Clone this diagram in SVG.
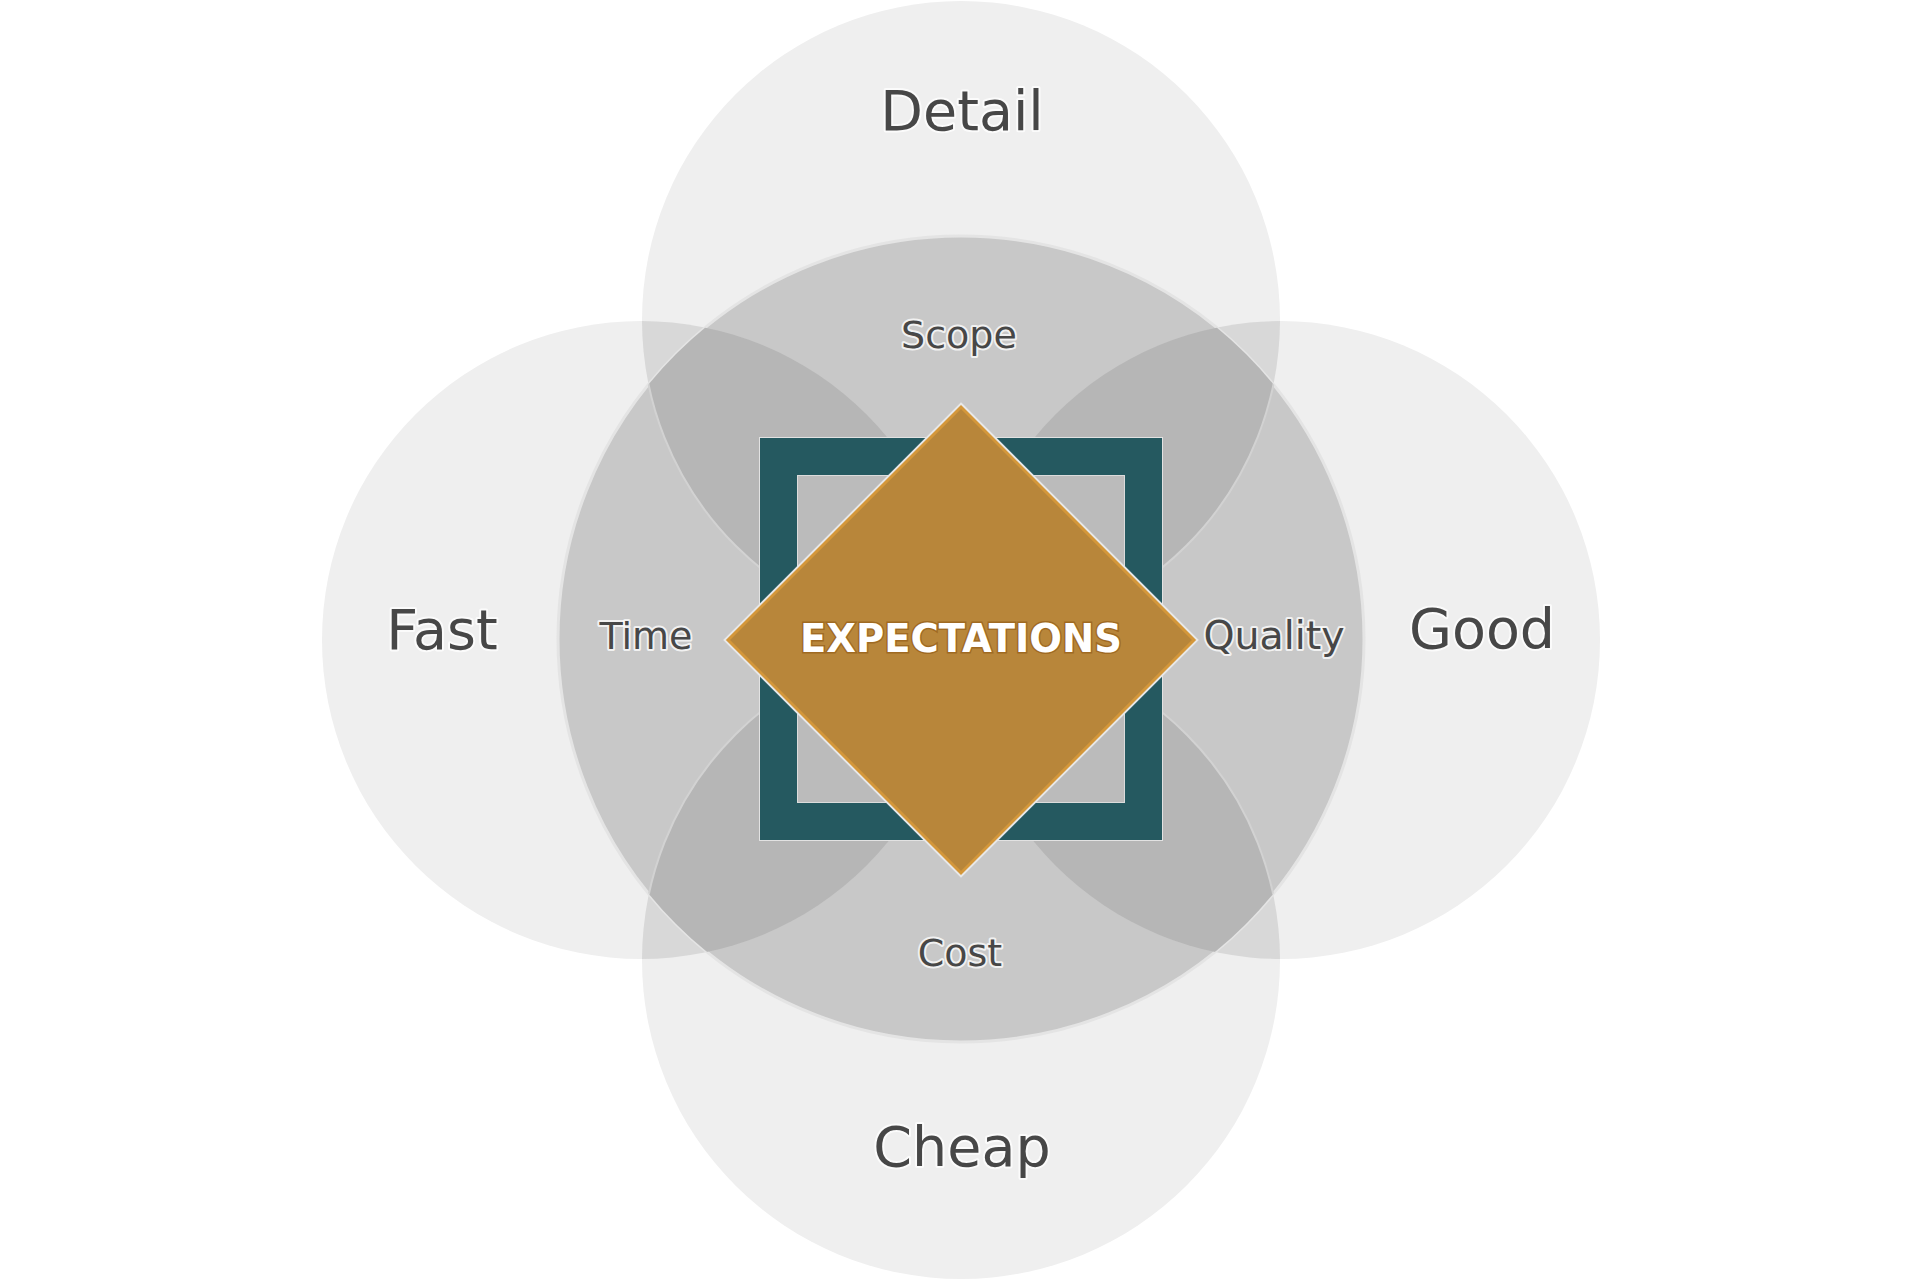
<svg xmlns="http://www.w3.org/2000/svg" width="1920" height="1280" viewBox="0 0 1920 1280">
  <style>
    .outer { fill: #efefef; }
    .lensOut { fill: #d8d8d8; }
    .lensIn { fill: #b6b6b6; stroke: #d2d2d2; stroke-width: 2; }
    .lbl { font-family: "DejaVu Sans", "Liberation Sans", sans-serif; fill: #474747; text-anchor: middle; stroke: #ffffff; stroke-opacity: 0.75; stroke-width: 4; paint-order: stroke; stroke-linejoin: round; }
    .big { font-size: 55.5px; }
    .small { font-size: 38px; }
    .center { font-family: "DejaVu Sans", "Liberation Sans", sans-serif; font-weight: bold; font-size: 38.5px; fill: #ffffff; text-anchor: middle; stroke: #a06a22; stroke-width: 3; paint-order: stroke; }
  </style>
  <defs>
    <circle id="cTop" cx="961" cy="320" r="319"/>
    <circle id="cLeft" cx="641" cy="640" r="319"/>
    <circle id="cRight" cx="1281" cy="640" r="319"/>
    <circle id="cBottom" cx="961" cy="960" r="319"/>
    <clipPath id="clipLeft"><use href="#cLeft"/></clipPath>
    <clipPath id="clipRight"><use href="#cRight"/></clipPath>
    <clipPath id="clipCentral"><circle cx="961" cy="639" r="403"/></clipPath>
  </defs>
  <rect width="1920" height="1280" fill="#ffffff"/>

  <g id="circles-outer">
    <use href="#cTop" class="outer"/>
    <use href="#cLeft" class="outer"/>
    <use href="#cRight" class="outer"/>
    <use href="#cBottom" class="outer"/>
    <g clip-path="url(#clipLeft)">
      <use href="#cTop" class="lensOut"/>
      <use href="#cBottom" class="lensOut"/>
    </g>
    <g clip-path="url(#clipRight)">
      <use href="#cTop" class="lensOut"/>
      <use href="#cBottom" class="lensOut"/>
    </g>
  </g>

  <g id="central-circle">
    <circle cx="961" cy="639" r="403" fill="#c8c8c8" stroke="#e4e4e4" stroke-width="3"/>
    <g clip-path="url(#clipCentral)">
      <g clip-path="url(#clipLeft)">
        <use href="#cTop" class="lensIn"/>
        <use href="#cBottom" class="lensIn"/>
      </g>
      <g clip-path="url(#clipRight)">
        <use href="#cTop" class="lensIn"/>
        <use href="#cBottom" class="lensIn"/>
      </g>
    </g>
  </g>

  <g id="square">
    <rect x="760" y="438" width="402" height="402" fill="none" stroke="#e2e2e2" stroke-width="2"/>
    <rect x="797" y="475" width="328" height="328" fill="#ffffff" fill-opacity="0.07" stroke="#dcdcdc" stroke-width="2"/>
    <rect x="778.5" y="456.5" width="365" height="365" fill="none" stroke="#255960" stroke-width="37"/>
  </g>

  <g id="expectations">
    <polygon points="961,405 1196,640 961,875 726,640" fill="none" stroke="#e8e8e8" stroke-width="4"/>
    <polygon points="961,407 1194,640 961,873 728,640" fill="#b8863a" stroke="#d4973a" stroke-width="3"/>
    <text class="center" x="961" y="652">EXPECTATIONS</text>
  </g>

  <g id="labels">
    <text class="lbl big" x="962" y="130">Detail</text>
    <text class="lbl big" x="442" y="649">Fast</text>
    <text class="lbl big" x="1482" y="648">Good</text>
    <text class="lbl big" x="962" y="1166">Cheap</text>
    <text class="lbl small" x="959" y="348">Scope</text>
    <text class="lbl small" x="646" y="649">Time</text>
    <text class="lbl small" style="font-size:39.5px" x="1274" y="649">Quality</text>
    <text class="lbl small" x="960" y="966">Cost</text>
  </g>
  <g id="connectors"/>
</svg>
